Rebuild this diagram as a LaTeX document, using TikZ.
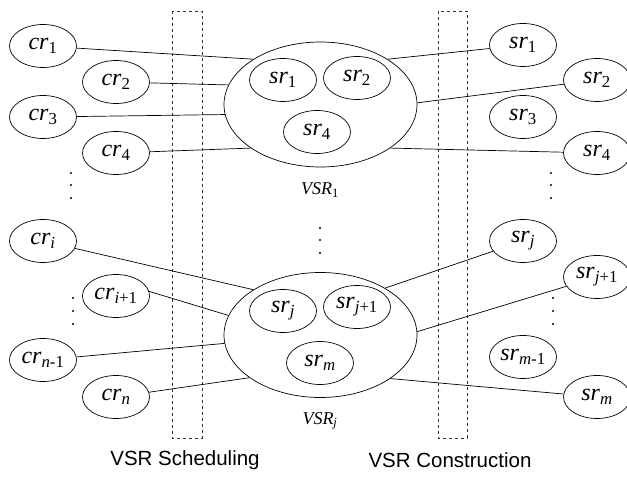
\documentclass[tikz,border=0pt]{standalone}
\usepackage{fontspec}
\setmainfont{Liberation Serif}
\newfontfamily\resfont{Liberation Serif}
\newfontfamily\capfont{Liberation Sans}
\usetikzlibrary{shapes.geometric}
\newcommand\rl[2]{\textit{#1}\textsubscript{#2}}

\begin{document}
\begin{tikzpicture}[x=1pt,y=-1pt,line width=.7pt,
    res/.style={draw,ellipse,inner sep=0pt,minimum width=67pt,minimum height=43pt,font=\resfont\fontsize{24}{26}\selectfont},
    vsr/.style={draw,ellipse,inner sep=0pt,minimum width=193pt,minimum height=125pt},
    box/.style={draw=black!80,dashed,line width=.6pt}]
    \useasboundingbox (0,0) rectangle (627,478);

    \draw[box] (172,11) rectangle (202,438);
    \draw[box] (438,11) rectangle (467,438);

    % first virtual resource set
    \node[vsr] (V1) at (320.5,104.5) {};
    \node[res] (i1) at (283,80) {\rl{sr}{1}};
    \node[res] (i2) at (357,78) {\rl{sr}{2}};
    \node[res] (i4) at (317,132) {\rl{sr}{4}};
    \node[font=\resfont\fontsize{18}{20}\selectfont] (l1) at (320,190) {\rl{VSR}{1}};

    % second one
    \node[vsr] (Vj) at (320.5,335) {};
    \node[res] (ij) at (283,311) {\rl{sr}{\textit{j}}};
    \node[res] (ij1) at (357,307) {\rl{sr}{\textit{j}+1}};
    \node[res] (im) at (320,363) {\rl{sr}{\textit{m}}};
    \node[font=\resfont\fontsize{18}{20}\selectfont] (lj) at (320,421) {\rl{VSR}{\textit{j}}};

    % client requests
    \node[res] (c1) at (43,46) {\rl{cr}{1}};
    \node[res] (c2) at (116,82) {\rl{cr}{2}};
    \node[res] (c3) at (43,117) {\rl{cr}{3}};
    \node[res] (c4) at (116,153) {\rl{cr}{4}};
    \node[res] (ci) at (43,241) {\rl{cr}{\textit{i}}};
    \node[res] (ci1) at (116,296) {\rl{cr}{\textit{i}+1}};
    \node[res] (cn1) at (43,360) {\rl{cr}{\textit{n}-1}};
    \node[res] (cn) at (116,397) {\rl{cr}{\textit{n}}};

    % service resources
    \node[res] (s1) at (523,45) {\rl{sr}{1}};
    \node[res] (s2) at (597,80) {\rl{sr}{2}};
    \node[res] (s3) at (523,117) {\rl{sr}{3}};
    \node[res] (s4) at (597,153) {\rl{sr}{4}};
    \node[res] (sj) at (523,241) {\rl{sr}{\textit{j}}};
    \node[res] (sj1) at (597,277) {\rl{sr}{\textit{j}+1}};
    \node[res] (sm1) at (523,357) {\rl{sr}{\textit{m}-1}};
    \node[res] (sm) at (597,397) {\rl{sr}{\textit{m}}};

    \draw (c1) -- (V1.146);
    \draw (c2) -- (V1.168);
    \draw (c3) -- (V1.186);
    \draw (c4) -- (V1.212);
    \draw (V1.34) -- (s1);
    \draw (V1.1) -- (s2);
    \draw (V1.-32) -- (s4);

    \draw (ci) -- (Vj.146);
    \draw (ci1.8) -- (Vj.168);
    \draw (cn1) -- (Vj.185);
    \draw (cn) -- (Vj.211);
    \draw (Vj.36) -- (sj);
    \draw (Vj.2) -- (sj1);
    \draw (Vj.-32) -- (sm);

    \foreach \x/\y in {71/173,71/185,71/198,551/173,551/185,551/198,320/228,320/240,320/253,
        73/298,73/311,73/324,553/298,553/311,553/324}
        \fill (\x,\y) circle (1.1);

    \node[font={\capfont\fontsize{20.5}{22}\selectfont}] (sched) at (185,460) {VSR Scheduling};
    \node[font={\capfont\fontsize{20.5}{22}\selectfont}] (constr) at (450,460) {VSR Construction};
\end{tikzpicture}
\end{document}
